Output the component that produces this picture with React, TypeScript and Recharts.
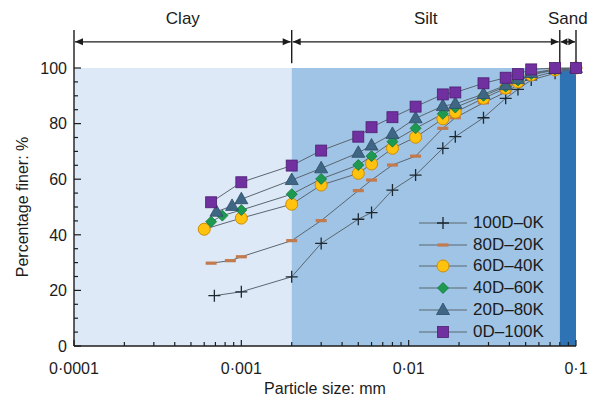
import React from "react";
import {
  ComposedChart,
  Line,
  XAxis,
  YAxis,
  ReferenceArea,
  ReferenceLine,
  Legend,
  Label,
} from "recharts";

const FONT = "'Liberation Sans', Arial, Helvetica, sans-serif";
const INK = "#1c1c1c";

// particle sizes (mm) shared by all curves in the silt/sand range
const SILT_SIZES = [0.003, 0.005, 0.006, 0.008, 0.011, 0.016, 0.019, 0.028, 0.038, 0.045, 0.054, 0.075, 0.1];

const D100_SIZE = [0.00069, 0.001, 0.002, ...SILT_SIZES];
const D100_FINER = [18.1, 19.5, 24.9, 36.9, 45.6, 48.0, 56.1, 61.5, 71.1, 75.3, 82.1, 89.1, 92.3, 95.7, 98.1, 100];

const D80_SIZE = [0.00066, 0.00086, 0.001, 0.002, ...SILT_SIZES];
const D80_FINER = [29.8, 30.7, 32.1, 37.9, 45.1, 55.9, 59.7, 65.1, 68.3, 78.3, 82.1, 87.5, 91.3, 94.0, 96.5, 98.8, 100];

const D60_SIZE = [0.0006, 0.001, 0.002, ...SILT_SIZES];
const D60_FINER = [42.0, 46.0, 51.0, 57.9, 62.1, 65.5, 71.1, 75.1, 81.7, 84.1, 89.1, 92.7, 95.0, 97.5, 99.3, 100];

const D40_SIZE = [0.00066, 0.00077, 0.001, 0.002, ...SILT_SIZES];
const D40_FINER = [44.7, 46.9, 48.9, 54.6, 60.1, 65.1, 68.3, 73.5, 78.3, 83.5, 85.8, 90.0, 93.3, 95.5, 97.8, 99.5, 100];

const D20_SIZE = [0.00071, 0.00088, 0.001, 0.002, ...SILT_SIZES];
const D20_FINER = [48.3, 50.4, 52.8, 59.7, 63.9, 69.5, 72.1, 76.3, 81.9, 86.3, 87.1, 90.6, 93.8, 96.0, 98.2, 99.6, 100];

const D0_SIZE = [0.00066, 0.001, 0.002, ...SILT_SIZES];
const D0_FINER = [51.7, 58.9, 64.9, 70.3, 75.3, 78.7, 82.3, 86.1, 90.5, 91.2, 94.5, 96.5, 97.8, 99.5, 100, 100];

const SERIES_NAMES = ["100D–0K", "80D–20K", "60D–40K", "40D–60K", "20D–80K", "0D–100K"];
const SERIES_SIZES = [D100_SIZE, D80_SIZE, D60_SIZE, D40_SIZE, D20_SIZE, D0_SIZE];
const SERIES_FINER = [D100_FINER, D80_FINER, D60_FINER, D40_FINER, D20_FINER, D0_FINER];
const SERIES_MARKERS = ["plus", "dash", "circle", "diamond", "triangle", "square"];

// soil fraction boundaries (mm)
const FRACTION_NAMES = ["Clay", "Silt", "Sand"];
const FRACTION_FROM = [0.0001, 0.002, 0.08];
const FRACTION_TO = [0.002, 0.08, 0.1];
const FRACTION_FILLS = ["#dde9f6", "#a0c4e6", "#2e74b5"];

const X_MAJOR = [0.0001, 0.001, 0.01, 0.1];
const X_LABELS = ["0·0001", "0·001", "0·01", "0·1"];
const X_TICKS = X_MAJOR.slice(0, 3).flatMap((d) => [1, 2, 3, 4, 5, 6, 7, 8, 9].map((k) => k * d)).concat([0.1]);
const Y_TICKS = Array.from({ length: 21 }, (_, i) => i * 5);

const LINE_COLOR = "#5a6670";
const ARROW_Y = 109.4;
const BRACKET_TOP = 113.7;

const seriesData = SERIES_SIZES.map((sizes, s) =>
  sizes.map((x, i) => ({ x, y: SERIES_FINER[s][i] }))
);

function Marker({ kind, cx, cy }: { kind: string; cx: number; cy: number }) {
  switch (kind) {
    case "plus":
      return <path d={`M${cx - 6},${cy}H${cx + 6}M${cx},${cy - 6}V${cy + 6}`} stroke="#1d2730" strokeWidth={1.3} />;
    case "dash":
      return <rect x={cx - 5.5} y={cy - 1.6} width={11} height={3.2} fill="#c27a4f" />;
    case "circle":
      return <circle cx={cx} cy={cy} r={6} fill="#ffc20e" stroke="#cf8c00" strokeWidth={1} />;
    case "diamond":
      return (
        <path
          d={`M${cx},${cy - 5.5}L${cx + 5.5},${cy}L${cx},${cy + 5.5}L${cx - 5.5},${cy}Z`}
          fill="#1d9a4f"
          stroke="#13773a"
          strokeWidth={0.8}
        />
      );
    case "triangle":
      return (
        <path
          d={`M${cx},${cy - 7}L${cx + 6.5},${cy + 4.5}L${cx - 6.5},${cy + 4.5}Z`}
          fill="#3f6685"
          stroke="#2b4c66"
          strokeWidth={0.8}
        />
      );
    default:
      return <rect x={cx - 5.5} y={cy - 5.5} width={11} height={11} fill="#7030a0" stroke="#4c1e70" strokeWidth={0.8} />;
  }
}

const XTick = (props: any) => {
  const { x, y, payload } = props;
  const idx = X_MAJOR.findIndex((m) => Math.abs(m - payload.value) / m < 1e-6);
  const major = idx >= 0;
  return (
    <g>
      <line x1={x} x2={x} y1={y} y2={y - (major ? 6 : 4)} stroke={INK} strokeWidth={1.2} />
      {major && (
        <text x={x} y={y + 28} textAnchor="middle" fontSize={16} fill={INK} fontFamily={FONT}>
          {X_LABELS[idx]}
        </text>
      )}
    </g>
  );
};

const YTick = (props: any) => {
  const { x, y, payload } = props;
  const major = payload.value % 20 === 0;
  return (
    <g>
      <line x1={x} x2={x + (major ? 7 : 4)} y1={y} y2={y} stroke={INK} strokeWidth={1.2} />
      {major && (
        <text x={x - 7} y={y + 5.7} textAnchor="end" fontSize={16} fill={INK} fontFamily={FONT}>
          {payload.value}
        </text>
      )}
    </g>
  );
};

// double-headed arrow spanning one soil fraction, with its name above
const RangeArrow = (props: any) => {
  const { x1, y1, x2, name } = props;
  const a = x1 + 1;
  const b = x2 - 1;
  const head = Math.min(8, (b - a) / 2 - 0.5);
  return (
    <g>
      <line x1={a} x2={b} y1={y1} y2={y1} stroke={INK} strokeWidth={1.4} />
      <path d={`M${a},${y1}l${head},-3.5v7z`} fill={INK} />
      <path d={`M${b},${y1}l${-head},-3.5v7z`} fill={INK} />
      <text x={(x1 + x2) / 2} y={y1 - 18} textAnchor="middle" fontSize={17} fill={INK} fontFamily={FONT}>
        {name}
      </text>
    </g>
  );
};

const YTitle = (props: any) => {
  const { viewBox } = props;
  const cy = viewBox.y + viewBox.height / 2;
  return (
    <text
      x={28}
      y={cy}
      transform={`rotate(-90, 28, ${cy})`}
      textAnchor="middle"
      fontSize={16}
      fill={INK}
      fontFamily={FONT}
    >
      Percentage finer: %
    </text>
  );
};

const XTitle = (props: any) => {
  const { viewBox } = props;
  return (
    <text
      x={viewBox.x + viewBox.width / 2}
      y={394}
      textAnchor="middle"
      fontSize={16}
      fill={INK}
      fontFamily={FONT}
    >
      Particle size: mm
    </text>
  );
};

const LegendBox = () => (
  <div style={{ fontFamily: FONT, fontSize: 17, color: INK }}>
    {SERIES_NAMES.map((name, i) => (
      <div key={name} style={{ display: "flex", alignItems: "center", height: 21.8 }}>
        <svg width={50} height={20} style={{ overflow: "visible" }}>
          <line x1={1} x2={49} y1={10} y2={10} stroke={LINE_COLOR} strokeWidth={1} />
          <Marker kind={SERIES_MARKERS[i]} cx={25} cy={10} />
        </svg>
        <span style={{ marginLeft: 5, lineHeight: "20px" }}>{name}</span>
      </div>
    ))}
  </div>
);

export default function App() {
  return (
    <div style={{ position: "absolute", left: 0, top: 0, width: 589, height: 405, background: "#fff" }}>
      <ComposedChart width={589} height={405} margin={{ top: 68, right: 13, bottom: 0, left: 0 }}>
        {FRACTION_NAMES.map((name, i) => (
          <ReferenceArea
            key={name}
            x1={FRACTION_FROM[i]}
            x2={FRACTION_TO[i]}
            y1={0}
            y2={100}
            fill={FRACTION_FILLS[i]}
            fillOpacity={1}
            stroke="none"
            ifOverflow="visible"
          />
        ))}
        <XAxis
          dataKey="x"
          type="number"
          scale="log"
          domain={[0.0001, 0.1]}
          ticks={X_TICKS}
          interval={0}
          height={59}
          tickSize={0}
          tickMargin={0}
          tickLine={false}
          tick={XTick}
          axisLine={{ stroke: INK, strokeWidth: 1.4 }}
        >
          <Label content={XTitle} />
        </XAxis>
        <YAxis
          type="number"
          domain={[0, 100]}
          ticks={Y_TICKS}
          interval={0}
          width={74}
          tickSize={0}
          tickMargin={0}
          tickLine={false}
          tick={YTick}
          axisLine={{ stroke: INK, strokeWidth: 1.4 }}
        >
          <Label content={YTitle} />
        </YAxis>
        {FRACTION_NAMES.map((name, i) => (
          <ReferenceLine
            key={`arrow-${name}`}
            segment={[
              { x: FRACTION_FROM[i], y: ARROW_Y },
              { x: FRACTION_TO[i], y: ARROW_Y },
            ]}
            ifOverflow="visible"
            shape={(p: any) => <RangeArrow {...p} name={name} />}
          />
        ))}
        {[0.0001, 0.002, 0.08, 0.1].map((x, i) => (
          <ReferenceLine
            key={`bracket-${i}`}
            segment={[
              { x, y: x === 0.002 ? 101.7 : 100 },
              { x, y: BRACKET_TOP },
            ]}
            ifOverflow="visible"
            stroke={INK}
            strokeWidth={1.4}
          />
        ))}
        {seriesData.map((data, s) => (
          <Line
            key={SERIES_NAMES[s]}
            data={data}
            dataKey="y"
            name={SERIES_NAMES[s]}
            type="linear"
            stroke={LINE_COLOR}
            strokeWidth={1}
            isAnimationActive={false}
            activeDot={false}
            dot={(p: any) => <Marker key={`${s}-${p.index}`} kind={SERIES_MARKERS[s]} cx={p.cx} cy={p.cy} />}
          />
        ))}
        <Legend
          layout="vertical"
          align="center"
          verticalAlign="middle"
          content={LegendBox}
          wrapperStyle={{ position: "absolute", left: 418, top: 212, width: 170, margin: 0 }}
        />
      </ComposedChart>
    </div>
  );
}
